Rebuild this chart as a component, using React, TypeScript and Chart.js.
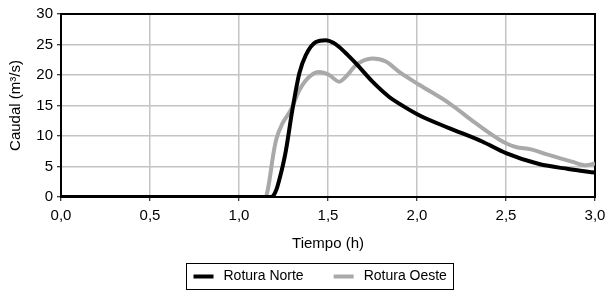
import React, { useEffect, useRef } from "react";
import { Chart, registerables } from "chart.js";

Chart.register(...registerables);

const seriesNames = ["Rotura Norte", "Rotura Oeste"];
const seriesColors = ["#000000", "#a9a9a9"];

const norteTimes = [0, 0.5, 1.0, 1.18, 1.195, 1.21, 1.226, 1.245, 1.264, 1.3, 1.339, 1.376, 1.432, 1.488, 1.53, 1.563, 1.61, 1.657, 1.75, 1.844, 1.9, 2.012, 2.18, 2.366, 2.5, 2.686, 2.85, 3.0];
const norteValues = [0, 0, 0, 0, 0.3, 1.2, 2.8, 5.0, 7.7, 14.3, 20.3, 23.3, 25.4, 25.7, 25.3, 24.6, 23.3, 21.9, 18.9, 16.4, 15.3, 13.4, 11.3, 9.1, 7.2, 5.4, 4.6, 4.0];

const oesteTimes = [0, 0.5, 1.0, 1.15, 1.161, 1.174, 1.19, 1.208, 1.245, 1.292, 1.339, 1.395, 1.45, 1.507, 1.563, 1.6, 1.657, 1.75, 1.825, 1.9, 2.012, 2.18, 2.33, 2.5, 2.555, 2.64, 2.74, 2.87, 2.95, 3.0];
const oesteValues = [0, 0, 0, 0, 1.1, 3.3, 6.5, 9.3, 12.1, 14.3, 17.5, 19.7, 20.5, 20.0, 18.9, 19.7, 21.6, 22.7, 22.2, 20.5, 18.4, 15.4, 12.1, 8.8, 8.2, 7.8, 6.9, 5.8, 5.2, 5.5];

const xTickLabels = ["0,0", "0,5", "1,0", "1,5", "2,0", "2,5", "3,0"];
const yTickLabels = ["0", "5", "10", "15", "20", "25", "30"];

const xTitle = "Tiempo (h)";
const yTitle = "Caudal (m³/s)";

const FONT = "'Liberation Sans', Arial, Helvetica, sans-serif";

const framePlugin = {
  id: "frame",
  beforeDatasetsDraw(chart: any) {
    const { ctx, chartArea } = chart;
    ctx.save();
    ctx.strokeStyle = "#000";
    ctx.lineWidth = 2;
    ctx.strokeRect(chartArea.left, chartArea.top, chartArea.right - chartArea.left, chartArea.bottom - chartArea.top);
    ctx.restore();
  },
};

const legendPlugin = {
  id: "boxLegend",
  afterDraw(chart: any) {
    const { ctx } = chart;
    const ds = chart.data.datasets;
    ctx.save();
    ctx.font = `14px ${FONT}`;
    const pad = 7;
    const sample = 20;
    const gap = 10;
    const spacing = 30;
    const widths = ds.map((d: any) => ctx.measureText(d.label).width);
    let total = pad * 2;
    widths.forEach((w: number, i: number) => {
      total += sample + gap + w + (i > 0 ? spacing : 0);
    });
    const cx = 320;
    const top = 263;
    const h = 26;
    const left = Math.round(cx - total / 2) + 0.5;
    ctx.strokeStyle = "#000";
    ctx.lineWidth = 1;
    ctx.strokeRect(left, top + 0.5, Math.round(total), h);
    let x = left + pad;
    const midY = top + h / 2 + 0.5;
    ds.forEach((d: any, i: number) => {
      if (i > 0) x += spacing;
      ctx.fillStyle = d.borderColor;
      ctx.fillRect(x, midY - 2, sample, 4);
      x += sample + gap;
      ctx.fillStyle = "#000";
      ctx.textBaseline = "middle";
      ctx.textAlign = "left";
      ctx.fillText(d.label, x, midY);
      x += widths[i];
    });
    ctx.restore();
  },
};

export default function App() {
  const canvasRef = useRef<HTMLCanvasElement | null>(null);

  useEffect(() => {
    document.body.style.margin = "0";
    const canvas = canvasRef.current;
    if (!canvas) return;
    const chart = new Chart(canvas, {
      type: "line",
      data: {
        datasets: [
          {
            label: seriesNames[0],
            data: norteTimes.map((t, i) => ({ x: t, y: norteValues[i] })),
            borderColor: seriesColors[0],
            backgroundColor: seriesColors[0],
            borderWidth: 4,
            pointRadius: 0,
            cubicInterpolationMode: "monotone",
          },
          {
            label: seriesNames[1],
            data: oesteTimes.map((t, i) => ({ x: t, y: oesteValues[i] })),
            borderColor: seriesColors[1],
            backgroundColor: seriesColors[1],
            borderWidth: 4,
            pointRadius: 0,
            cubicInterpolationMode: "monotone",
          },
        ],
      },
      options: {
        animation: false,
        responsive: false,
        maintainAspectRatio: false,
        layout: { padding: { top: 14, right: 11, left: 0, bottom: 36 } },
        plugins: {
          legend: { display: false },
          tooltip: { enabled: false },
        },
        scales: {
          x: {
            type: "linear",
            min: 0,
            max: 3,
            afterFit: (s: any) => {
              s.height = 58;
              s.paddingLeft = 0;
              s.paddingRight = 0;
            },
            ticks: {
              stepSize: 0.5,
              padding: 6,
              color: "#000",
              font: { family: FONT, size: 15 },
              maxRotation: 0,
              callback: (v: any, i: number) => xTickLabels[i] ?? "",
            },
            grid: { color: "#c4c4c4", lineWidth: 1.5, tickColor: "#000", tickLength: 4, tickWidth: 1 },
            border: { color: "#000", width: 2 },
            title: { display: true, text: xTitle, color: "#000", font: { family: FONT, size: 15 }, padding: { top: 0, bottom: 2 } },
          },
          y: {
            min: 0,
            max: 30,
            afterFit: (s: any) => {
              s.width = 61;
              s.paddingTop = 0;
              s.paddingBottom = 0;
            },
            ticks: {
              stepSize: 5,
              padding: 4,
              color: "#000",
              font: { family: FONT, size: 15 },
              callback: (v: any, i: number) => yTickLabels[i] ?? "",
            },
            grid: { color: "#c4c4c4", lineWidth: 1.5, tickColor: "#000", tickLength: 4, tickWidth: 1 },
            border: { color: "#000", width: 2 },
            title: { display: true, text: yTitle, color: "#000", font: { family: FONT, size: 15 }, padding: { top: 7, bottom: 0 } },
          },
        },
      },
      plugins: [framePlugin, legendPlugin],
    });
    return () => chart.destroy();
  }, []);

  return (
    <div style={{ width: 606, height: 291 }}>
      <canvas ref={canvasRef} width={606} height={291} style={{ display: "block" }} />
    </div>
  );
}
